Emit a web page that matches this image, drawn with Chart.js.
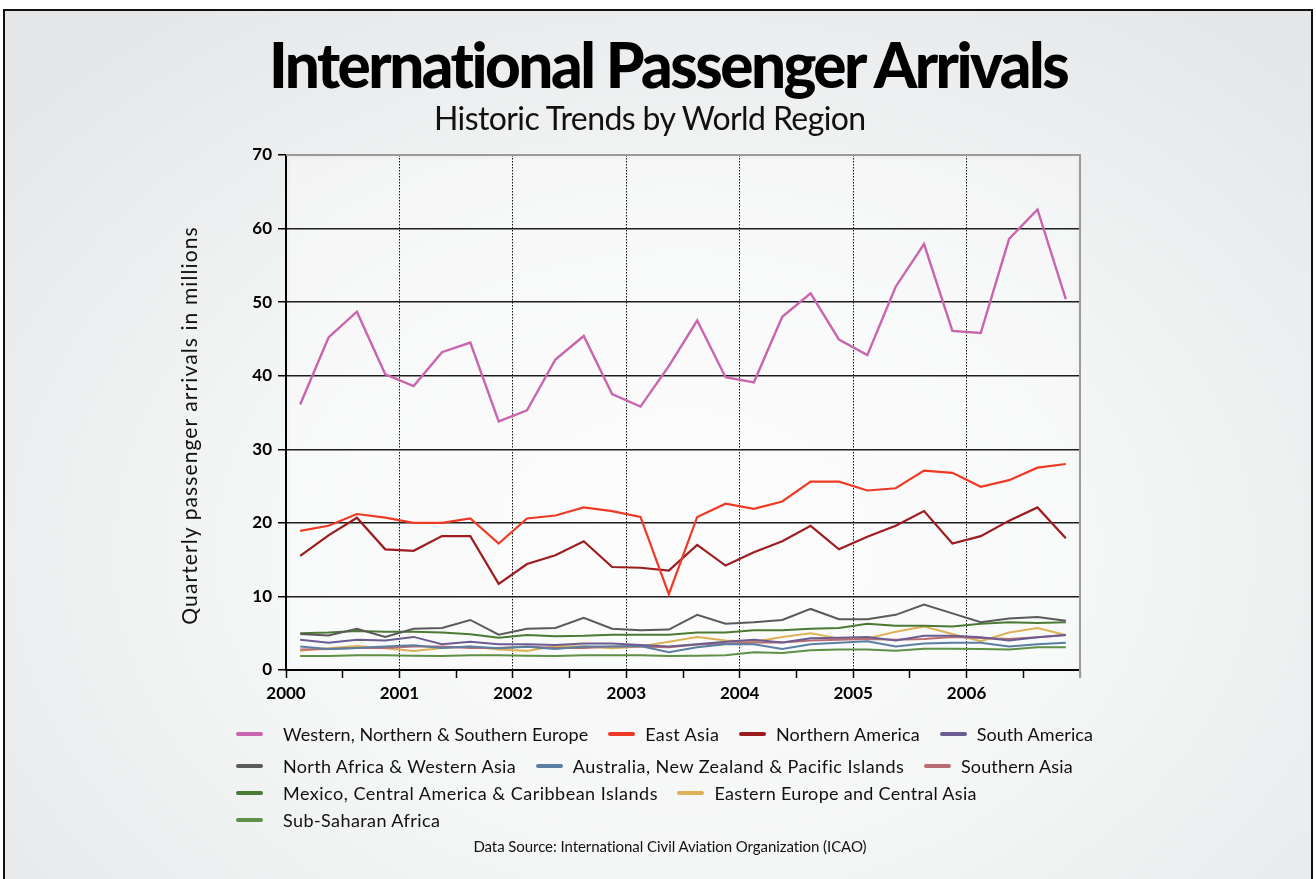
<!DOCTYPE html>
<html>
<head>
<meta charset="utf-8">
<title>International Passenger Arrivals</title>
<script src="https://cdn.jsdelivr.net/npm/chart.js@4/dist/chart.umd.min.js"></script>
<style>
  html, body { margin: 0; padding: 0; background: #fff; }
  body { width: 1316px; height: 879px; overflow: hidden; position: relative; font-family: Lato, "Open Sans", sans-serif; color: #111; }
  #frame {
    position: absolute; left: 3px; top: 9px; width: 1306px; height: 900px;
    border: 2px solid #111;
    background: radial-gradient(ellipse 70% 75% at 52% 60%, #fbfbfb 0%, #f5f6f6 45%, #e5e6e8 100%);
  }
  #chart { position: absolute; left: 0; top: 0; }
  .txt { position: absolute; white-space: nowrap; line-height: 1; text-align: center; }
  #title { top: 33px; left: 269px; width: 800px; font-size: 62px; font-weight: 900; color: #000; }
  #subtitle { top: 102px; left: 434px; width: 432px; font-size: 32px; font-weight: 400; color: #111; }
  #ytitle { left: -10px; top: 414px; width: 400px; height: 24px; font-size: 21px; font-weight: 400; color: #111; transform: rotate(-90deg); transform-origin: 200px 12px; }
  #source { top: 839px; left: 473px; width: 394px; font-size: 15px; font-weight: 400; color: #111; }
  #legend { position: absolute; left: 236px; top: 724px; }
  .row { position: absolute; left: 0; height: 20px; display: flex; align-items: center; white-space: nowrap; }
  .item { display: flex; align-items: center; margin-right: 20px; }
  .sw { width: 27px; height: 4px; border-radius: 2px; margin-right: 10px; flex: none; }
  .item.first .sw { margin-right: 20px; }
  .lab { font-size: 18px; line-height: 20px; color: #111; }
</style>
</head>
<body>
<div id="frame"></div>
<canvas id="chart" width="1316" height="879"></canvas>
<div id="title" class="txt">International Passenger Arrivals</div>
<div id="subtitle" class="txt">Historic Trends by World Region</div>
<div id="ytitle" class="txt">Quarterly passenger arrivals in millions</div>
<div id="legend"></div>
<div id="source" class="txt">Data Source: International Civil Aviation Organization (ICAO)</div>

<script>
// Quarters covered by the series
const years = [2000, 2001, 2002, 2003, 2004, 2005, 2006];
const quarterNames = ['Q1', 'Q2', 'Q3', 'Q4'];

// Region names (legend order)
const regions = [
  'Western, Northern & Southern Europe',
  'East Asia',
  'Northern America',
  'South America',
  'North Africa & Western Asia',
  'Australia, New Zealand & Pacific Islands',
  'Southern Asia',
  'Mexico, Central America & Caribbean Islands',
  'Eastern Europe and Central Asia',
  'Sub-Saharan Africa'
];

// Quarterly passenger arrivals, millions
const westernEurope = [36.1, 45.2, 48.7, 40.2, 38.6, 43.2, 44.5, 33.8, 35.3, 42.2, 45.4, 37.5, 35.8, 41.3,
                       47.5, 39.8, 39.1, 48.0, 51.2, 44.9, 42.8, 52.1, 57.9, 46.1, 45.8, 58.6, 62.6, 50.4];
const eastAsia = [18.9, 19.6, 21.2, 20.7, 20.0, 20.0, 20.6, 17.2, 20.6, 21.0, 22.1, 21.6, 20.8, 10.3,
                  20.8, 22.6, 21.9, 22.9, 25.6, 25.6, 24.4, 24.7, 27.1, 26.8, 24.9, 25.8, 27.5, 28.0];
const northernAmerica = [15.5, 18.3, 20.7, 16.4, 16.2, 18.2, 18.2, 11.7, 14.4, 15.6, 17.5, 14.0, 13.9, 13.5,
                         17.0, 14.2, 16.0, 17.5, 19.6, 16.4, 18.1, 19.6, 21.6, 17.2, 18.2, 20.3, 22.1, 17.9];
const southAmerica = [4.1, 3.7, 4.1, 4.0, 4.5, 3.5, 3.85, 3.5, 3.5, 3.4, 3.6, 3.6, 3.4, 3.2,
                      3.5, 3.85, 4.1, 3.75, 4.3, 4.4, 4.5, 4.0, 4.65, 4.65, 4.45, 4.0, 4.45, 4.75];
const northAfricaWestAsia = [4.9, 4.7, 5.6, 4.5, 5.6, 5.7, 6.8, 4.8, 5.6, 5.7, 7.1, 5.6, 5.4, 5.5,
                             7.5, 6.3, 6.5, 6.8, 8.3, 6.9, 6.9, 7.5, 8.9, 7.7, 6.5, 7.0, 7.2, 6.7];
const australiaPacific = [3.2, 2.85, 3.0, 3.2, 3.35, 3.0, 3.2, 2.95, 3.15, 2.85, 3.2, 3.2, 3.25, 2.4,
                          3.1, 3.5, 3.5, 2.85, 3.5, 3.7, 3.9, 3.2, 3.6, 3.7, 3.7, 3.2, 3.5, 3.7];
const southernAsia = [2.8, 2.85, 3.0, 3.0, 3.2, 3.2, 3.0, 3.0, 3.2, 3.0, 3.0, 3.2, 3.2, 3.1,
                      3.45, 3.6, 3.75, 3.75, 4.0, 4.1, 4.2, 4.1, 4.2, 4.5, 4.35, 4.2, 4.45, 4.75];
const mexicoCaribbean = [5.0, 5.1, 5.3, 5.2, 5.2, 5.1, 4.85, 4.4, 4.75, 4.6, 4.65, 4.8, 4.8, 4.8,
                         5.1, 5.1, 5.4, 5.4, 5.6, 5.7, 6.3, 6.0, 6.0, 5.9, 6.3, 6.5, 6.4, 6.5];
const easternEurope = [2.6, 2.95, 3.25, 2.95, 2.6, 3.0, 3.2, 2.8, 2.6, 3.25, 3.2, 2.95, 3.2, 3.85,
                       4.5, 4.0, 3.85, 4.5, 5.0, 4.3, 4.3, 5.2, 5.9, 4.9, 3.9, 5.1, 5.7, 4.75];
const subSaharan = [1.9, 1.9, 2.0, 2.0, 1.95, 1.9, 2.0, 2.0, 1.95, 1.9, 2.0, 2.0, 2.0, 1.9,
                    1.95, 2.0, 2.4, 2.3, 2.7, 2.8, 2.8, 2.6, 2.9, 2.9, 2.85, 2.8, 3.1, 3.1];

// Y axis ticks (millions)
const yTicks = [0, 10, 20, 30, 40, 50, 60, 70];

const seriesValues = [westernEurope, eastAsia, northernAmerica, southAmerica, northAfricaWestAsia,
                      australiaPacific, southernAsia, mexicoCaribbean, easternEurope, subSaharan];
const seriesColors = ['#c965ae', '#ee3a25', '#9c1c20', '#6b5c92', '#5b5959',
                      '#5a7fa2', '#b96d72', '#4b7a34', '#ddb257', '#5e9046'];
const seriesWidths = [2.4, 2.2, 2.2, 2, 2, 2, 2, 2, 2, 2];

// Each quarter sits in the middle of its span on the time axis
const quarters = years.flatMap(y => quarterNames.map((q, i) => ({ label: y + ' ' + q, pos: y + (i + 0.5) / 4 })));

const datasets = regions.map((name, k) => ({
  label: name,
  data: seriesValues[k].map((v, i) => ({ x: quarters[i].pos, y: v })),
  borderColor: seriesColors[k],
  backgroundColor: seriesColors[k],
  borderWidth: seriesWidths[k],
  pointRadius: 0,
  tension: 0,
  fill: false
}));

// Light panel behind the plot plus grey top/right frame
const plotFrame = {
  id: 'plotFrame',
  beforeDraw(chart) {
    const { ctx, chartArea: a } = chart;
    ctx.save();
    ctx.fillStyle = 'rgba(255,255,255,0.35)';
    ctx.fillRect(a.left + 4, a.top + 4, a.right - a.left - 8, a.bottom - a.top - 8);
    ctx.restore();
  },
  beforeDatasetsDraw(chart) {
    const { ctx, chartArea: a } = chart;
    ctx.save();
    ctx.strokeStyle = '#9a9a9a';
    ctx.lineWidth = 2;
    ctx.beginPath();
    ctx.moveTo(a.left, a.top);
    ctx.lineTo(a.right, a.top);
    ctx.lineTo(a.right, a.bottom + 8);
    ctx.stroke();
    ctx.restore();
  }
};

const yearMin = years[0];
const yearMax = years[years.length - 1] + 1;

const chart = new Chart(document.getElementById('chart'), {
  type: 'line',
  data: { datasets },
  plugins: [plotFrame],
  options: {
    responsive: false,
    devicePixelRatio: 1,
    animation: false,
    layout: { padding: { left: 177, top: 155, right: 236, bottom: 179 } },
    plugins: { legend: { display: false }, tooltip: { enabled: false } },
    scales: {
      x: {
        type: 'linear',
        min: yearMin,
        max: yearMax,
        afterFit(scale) { scale.height = 30; },
        afterBuildTicks(scale) {
          const t = [];
          for (let v = yearMin; v <= yearMax; v += 0.5) t.push({ value: v });
          scale.ticks = t;
        },
        ticks: {
          autoSkip: false,
          maxRotation: 0,
          padding: 5,
          color: '#000',
          font: { family: 'Lato', size: 17, weight: 'bold' },
          callback: v => (Number.isInteger(v) && v < yearMax) ? String(v) : ''
        },
        grid: {
          color: c => (c.tick && Number.isInteger(c.tick.value) && c.tick.value > yearMin && c.tick.value < yearMax) ? '#111' : 'rgba(0,0,0,0)',
          lineWidth: 1,
          tickLength: 8,
          tickWidth: 1.5,
          tickColor: c => (c.tick && c.tick.value === yearMax) ? '#9a9a9a' : '#000'
        },
        border: { display: true, color: '#000', width: 2, dash: [1.5, 1.5] }
      },
      y: {
        min: 0,
        max: 70,
        afterFit(scale) { scale.width = 109; },
        afterBuildTicks(scale) { scale.ticks = yTicks.map(v => ({ value: v })); },
        ticks: {
          padding: 6,
          color: '#000',
          font: { family: 'Lato', size: 17, weight: 'bold' }
        },
        grid: {
          color: c => (c.tick && c.tick.value === 70) ? 'rgba(0,0,0,0)' : '#1e1e1e',
          lineWidth: 1.5,
          tickLength: 8,
          tickWidth: 1.5,
          tickColor: '#000'
        },
        border: { display: true, color: '#000', width: 2 }
      }
    }
  }
});

// HTML legend built from the chart's datasets
const legendRows = [[0, 1, 2, 3], [4, 5, 6], [7, 8], [9]];
const rowTops = [0, 32, 59, 86];
const labelWidths = [305, 74, 144, 116, 233, 331, 112, 374, 262, 157];
const legendEl = document.getElementById('legend');
legendRows.forEach((row, r) => {
  const rowEl = document.createElement('div');
  rowEl.className = 'row';
  rowEl.style.top = rowTops[r] + 'px';
  row.forEach((idx, j) => {
    const ds = chart.data.datasets[idx];
    const item = document.createElement('div');
    item.className = 'item' + (j === 0 ? ' first' : '');
    const sw = document.createElement('span');
    sw.className = 'sw';
    sw.style.background = ds.borderColor;
    const lab = document.createElement('span');
    lab.className = 'lab';
    lab.textContent = ds.label;
    item.appendChild(sw);
    item.appendChild(lab);
    rowEl.appendChild(item);
    lab.dataset.target = labelWidths[idx];
  });
  legendEl.appendChild(rowEl);
});

// Spread letters so each text run spans its intended width
// (offsetWidth ignores CSS transforms, so rotated text measures correctly)
function fitSpan(el, target) {
  el.style.display = 'inline-block';
  const w = el.offsetWidth;
  const n = el.textContent.length;
  if (n > 1) {
    const s = (target - w) / (n - 1);
    el.style.letterSpacing = s + 'px';
    el.style.marginRight = (-s) + 'px';
  }
}
function fitCentered(el, target) {
  const span = document.createElement('span');
  span.textContent = el.textContent;
  el.textContent = '';
  el.appendChild(span);
  fitSpan(span, target);
}
fitCentered(document.getElementById('title'), 802);
fitCentered(document.getElementById('subtitle'), 432);
fitCentered(document.getElementById('source'), 394);
fitCentered(document.getElementById('ytitle'), 397);
document.querySelectorAll('.lab').forEach(l => fitSpan(l, +l.dataset.target));
</script>
</body>
</html>
